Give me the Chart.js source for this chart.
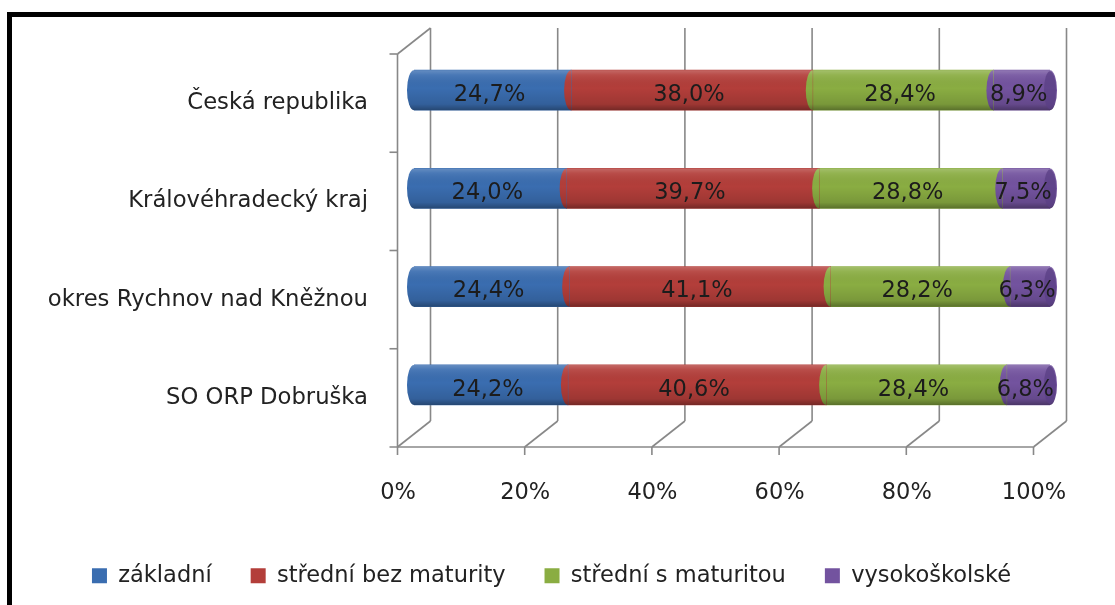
<!DOCTYPE html>
<html>
<head>
<meta charset="utf-8">
<script src="https://cdn.jsdelivr.net/npm/chart.js@4/dist/chart.umd.min.js"></script>
<style>
  html, body { margin: 0; padding: 0; background: #fff; overflow: hidden; }
  canvas { display: block; }
</style>
</head>
<body>
<canvas id="c" width="1115" height="605"></canvas>
<script>
const categories = ['Česká republika', 'Královéhradecký kraj', 'okres Rychnov nad Kněžnou', 'SO ORP Dobruška'];
const seriesNames = ['základní', 'střední bez maturity', 'střední s maturitou', 'vysokoškolské'];
const zakladni = [24.7, 24.0, 24.4, 24.2];
const stredniBez = [38.0, 39.7, 41.1, 40.6];
const stredniS = [28.4, 28.8, 28.2, 28.4];
const vysoko = [8.9, 7.5, 6.3, 6.8];
const xTicks = [0, 20, 40, 60, 80, 100];

const colors = ['#3a6db0', '#b33e3a', '#8aad42', '#73539f'];
const capColor = '#5a3f84';
const FONT = 'DejaVu Sans';
const DX = 16.5, DY = 13;

const framePlugin = {
  id: 'frame',
  beforeDraw(chart) {
    const ctx = chart.ctx;
    ctx.save();
    ctx.fillStyle = '#fff';
    ctx.fillRect(0, 0, chart.width, chart.height);
    ctx.strokeStyle = '#000';
    ctx.lineWidth = 5;
    ctx.strokeRect(9.5, 14.5, chart.width + 20, chart.height + 20);
    ctx.restore();
  }
};

const gridPlugin = {
  id: 'grid3d',
  beforeDatasetsDraw(chart) {
    const ctx = chart.ctx;
    const xs = chart.scales.x, ys = chart.scales.y;
    const { top, bottom } = chart.chartArea;
    ctx.save();
    ctx.strokeStyle = '#888';
    ctx.lineWidth = 1.6;
    const line = (x1, y1, x2, y2) => { ctx.beginPath(); ctx.moveTo(x1, y1); ctx.lineTo(x2, y2); ctx.stroke(); };
    xTicks.forEach(v => {
      const x = xs.getPixelForValue(v);
      line(x + DX, top - DY, x + DX, bottom - DY);
      line(x - DX, bottom + DY, x + DX, bottom - DY);
      line(x - DX, bottom + DY, x - DX, bottom + DY + 8);
    });
    const x0 = xs.getPixelForValue(xTicks[0]);
    const x1 = xs.getPixelForValue(xTicks[xTicks.length - 1]);
    line(x0 - DX - 8, bottom + DY, x1 - DX, bottom + DY);
    line(x0 - DX, top + DY, x0 - DX, bottom + DY);
    line(x0 - DX, top + DY, x0 + DX, top - DY);
    const half = (ys.getPixelForValue(1) - ys.getPixelForValue(0)) / 2;
    for (let i = 0; i < categories.length; i++) {
      const y = ys.getPixelForValue(i) - half;
      line(x0 - DX - 8, y + DY, x0 - DX, y + DY);
    }
    ctx.restore();
  },
  afterDatasetsDraw(chart) {
    const ctx = chart.ctx;
    const n = chart.data.datasets.length;
    const metas = chart.data.datasets.map((d, i) => chart.getDatasetMeta(i));
    for (let j = 0; j < categories.length; j++) {
      const bars = metas.map(m => m.data[j].getProps(['x', 'y', 'base', 'height'], true));
      const cy = bars[0].y;
      const h = bars[0].height;
      const ry = h / 2, rx = 7;
      ctx.save();
      bars.forEach((b, i) => {
        ctx.beginPath();
        ctx.ellipse(b.base, cy, rx, ry, 0, Math.PI / 2, Math.PI * 1.5);
        ctx.closePath();
        ctx.fillStyle = colors[i];
        ctx.fill();
      });
      const start = bars[0].base, end = bars[n - 1].x;
      ctx.beginPath();
      ctx.ellipse(end, cy, rx, ry, 0, 0, Math.PI * 2);
      ctx.fillStyle = colors[n - 1];
      ctx.fill();
      const g = ctx.createLinearGradient(0, cy - ry, 0, cy + ry);
      g.addColorStop(0, 'rgba(255,255,255,0.22)');
      g.addColorStop(0.12, 'rgba(255,255,255,0.08)');
      g.addColorStop(0.45, 'rgba(0,0,0,0)');
      g.addColorStop(0.85, 'rgba(0,0,0,0.12)');
      g.addColorStop(1, 'rgba(0,0,0,0.35)');
      ctx.beginPath();
      ctx.ellipse(start, cy, rx, ry, 0, Math.PI / 2, Math.PI * 1.5);
      ctx.lineTo(end, cy - ry);
      ctx.ellipse(end, cy, rx, ry, 0, -Math.PI / 2, Math.PI / 2);
      ctx.closePath();
      ctx.fillStyle = g;
      ctx.fill();
      ctx.beginPath();
      ctx.ellipse(end, cy, rx - 1, ry - 1, 0, 0, Math.PI * 2);
      ctx.fillStyle = capColor;
      ctx.globalAlpha = 0.75;
      ctx.fill();
      ctx.globalAlpha = 1;
      ctx.fillStyle = '#1c1c1c';
      ctx.font = '22.5px "' + FONT + '"';
      ctx.textAlign = 'center';
      ctx.textBaseline = 'middle';
      bars.forEach((b, i) => {
        const v = chart.data.datasets[i].data[j];
        ctx.fillText(v.toFixed(1).replace('.', ',') + '%', (b.base + b.x) / 2 - 3, cy + 5);
      });
      ctx.restore();
    }
  }
};

new Chart(document.getElementById('c'), {
  type: 'bar',
  data: {
    labels: categories,
    datasets: [
      { label: seriesNames[0], data: zakladni, backgroundColor: colors[0] },
      { label: seriesNames[1], data: stredniBez, backgroundColor: colors[1] },
      { label: seriesNames[2], data: stredniS, backgroundColor: colors[2] },
      { label: seriesNames[3], data: vysoko, backgroundColor: colors[3] }
    ]
  },
  options: {
    indexAxis: 'y',
    responsive: false,
    animation: false,
    devicePixelRatio: 1,
    barThickness: 40,
    layout: { padding: { top: 41, left: 0, right: 65, bottom: 8 } },
    scales: {
      x: {
        stacked: true, min: 0, max: 100,
        grid: { display: false, drawTicks: false },
        border: { display: false },
        afterFit: s => { s.height = 91.5; s.paddingLeft = 0; s.paddingRight = 0; },
        afterBuildTicks: s => { s.ticks = xTicks.map(v => ({ value: v })); },
        ticks: {
          callback: v => v + '%',
          labelOffset: -16,
          padding: 46,
          color: '#222',
          font: { family: FONT, size: 22.5 }
        }
      },
      y: {
        stacked: true,
        grid: { display: false, drawTicks: false },
        border: { display: false },
        afterFit: s => { s.width = 414; s.paddingTop = 0; s.paddingBottom = 0; },
        ticks: {
          labelOffset: 13,
          padding: 46,
          color: '#222',
          font: { family: FONT, size: 22.7 }
        }
      }
    },
    plugins: {
      legend: {
        position: 'bottom',
        align: 'end',
        labels: {
          boxWidth: 15, boxHeight: 15, padding: 39,
          color: '#222',
          font: { family: FONT, size: 22.5 }
        }
      },
      tooltip: { enabled: false }
    }
  },
  plugins: [framePlugin, gridPlugin]
});
</script>
</body>
</html>
